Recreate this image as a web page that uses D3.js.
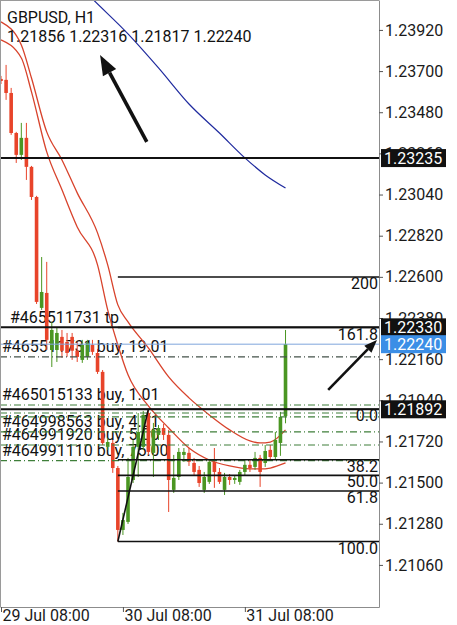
<!DOCTYPE html>
<html>
<head>
<meta charset="utf-8">
<script src="https://cdn.jsdelivr.net/npm/d3@7"></script>
<style>
  html, body { margin: 0; padding: 0; background: #fff; }
  svg { display: block; font-family: Roboto, "Noto Sans", sans-serif; }
</style>
</head>
<body>
<svg id="chart" width="457" height="625"></svg>
<script>
const SYMBOL = 'GBPUSD, H1';
const START = new Date(2020, 6, 29, 8, 0); // first hourly bar, 29 Jul 08:00
const HOUR = 3600 * 1000;

// hourly bars
const OPEN = [1.23658,1.23653,1.23583,1.23369,1.23252,1.23343,1.23188,1.23027,1.22434,1.22514,
  1.22209,1.22209,1.22279,1.22252,1.22279,1.22205,1.22156,1.22172,1.22236,1.22193,
  1.22092,1.21691,1.21712,1.21578,1.21247,1.21290,1.21514,1.21691,1.21691,1.21872,
  1.21659,1.21755,1.21792,1.21755,1.21461,1.21530,1.21648,1.21659,1.21605,1.21568,
  1.21461,1.21504,1.21611,1.21557,1.21461,1.21530,1.21514,1.21504,1.21557,1.21595,
  1.21584,1.21632,1.21605,1.21675,1.21637,1.21712,1.21856];
const HIGH = [1.23674,1.23733,1.23610,1.23375,1.23423,1.23423,1.23193,1.23033,1.22706,1.22680,
  1.22359,1.22332,1.22316,1.22300,1.22300,1.22252,1.22263,1.22263,1.22263,1.22215,
  1.22102,1.21739,1.21728,1.21589,1.21338,1.21632,1.21728,1.21872,1.21883,1.21892,
  1.21819,1.21808,1.21814,1.21782,1.21648,1.21685,1.21685,1.21685,1.21632,1.21589,
  1.21557,1.21621,1.21685,1.21578,1.21552,1.21546,1.21536,1.21568,1.21621,1.21621,
  1.21664,1.21648,1.21701,1.21701,1.21771,1.21878,1.22316];
const LOW = [1.23631,1.23546,1.23359,1.23209,1.23225,1.23118,1.23011,1.22455,1.22423,1.22209,
  1.22118,1.22145,1.22167,1.22172,1.22156,1.22145,1.22140,1.22156,1.22183,1.22081,
  1.21701,1.21675,1.21552,1.21185,1.21220,1.21279,1.21498,1.21530,1.21675,1.21648,
  1.21530,1.21728,1.21728,1.21343,1.21445,1.21514,1.21611,1.21589,1.21541,1.21477,
  1.21445,1.21493,1.21472,1.21493,1.21434,1.21488,1.21493,1.21488,1.21536,1.21557,
  1.21568,1.21477,1.21584,1.21621,1.21621,1.21643,1.21817];
const CLOSE = [1.23647,1.23583,1.23369,1.23252,1.23343,1.23188,1.23027,1.22466,1.22519,1.22263,
  1.22316,1.22300,1.22205,1.22193,1.22205,1.22172,1.22236,1.22247,1.22199,1.22092,
  1.21712,1.21717,1.21578,1.21247,1.21300,1.21530,1.21691,1.21771,1.21862,1.21664,
  1.21782,1.21792,1.21755,1.21514,1.21525,1.21664,1.21664,1.21611,1.21557,1.21498,
  1.21530,1.21611,1.21557,1.21504,1.21530,1.21514,1.21525,1.21557,1.21595,1.21578,
  1.21632,1.21557,1.21669,1.21637,1.21728,1.21851,1.22240];

// moving averages, read at these bar indices
const MA_IDX = [0, 4, 6, 9, 12, 15, 19, 21, 23, 25, 29, 33, 37, 41, 45, 49, 51, 53, 56];
const MA_UPPER = [1.23963,1.23840,1.23663,1.23375,1.23225,1.23049,1.22835,1.22664,1.22450,1.22359,
  1.22220,1.22065,1.21953,1.21862,1.21782,1.21723,1.21712,1.21717,1.21782];
const MA_LOWER = [1.23867,1.23770,1.23589,1.23268,1.23065,1.22867,1.22664,1.22423,1.22236,1.22076,
  1.21910,1.21792,1.21685,1.21621,1.21589,1.21573,1.21573,1.21578,1.21605];
const MA_BLUE_IDX = [12, 18, 25, 31, 37, 43, 48, 52, 56];
const MA_BLUE = [1.24252,1.24086,1.23899,1.23717,1.23524,1.23369,1.23236,1.23145,1.23075];

const Y_TICKS = [1.23920,1.23700,1.23480,1.23260,1.23040,1.22820,1.22600,1.22380,1.22160,1.21940,1.21720,1.21500,1.21280,1.21060];
const X_TICK_BARS = [0, 24, 48];

// horizontal lines and trade levels
const H_LINES = [1.23235, 1.22330, 1.21892];
const BID = 1.22240;
const TP_TICKET = '#465511731';
const TP_PRICE = 1.22330;
const ORDER_TICKETS = ['#465511731', '#465015133', '#464998563', '#464991920', '#464991110'];
const ORDER_LOTS = ['19.01', '1.01', '4.01', '5.00', '75.00'];
const ORDER_PRICES = [1.22172, 1.21915, 1.21771, 1.21701, 1.21618];
const OTHER_ORDER_PRICES = [1.21872, 1.21851];

// fibonacci
const FIB_LOW_BAR = 23, FIB_HIGH_BAR = 29;
const FIB_LOW = 1.21185, FIB_HIGH = 1.21892;
const FIB_LABELS = ['0.0', '38.2', '50.0', '61.8', '100.0', '161.8', '200'];
const FIB_RATIOS = [0, 0.382, 0.5, 0.618, 1, -0.618, -1];

// drawn arrows (bar index, price)
const ARROW_FROM_BAR = [28.7, 64.4];
const ARROW_FROM_PRICE = [1.23321, 1.21996];
const ARROW_TO_BAR = [19.5, 74.0];
const ARROW_TO_PRICE = [1.23786, 1.22263];

// ---- layout / style
const W = 457, H = 625;
const PLOT_R = 379, PLOT_B = 607;
const UP = '#4a9622', DOWN = '#e8442a';
const FONT = 16;

const svg = d3.select('#chart');
const fmt = d3.format('.5f');
const barTime = i => new Date(+START + i * HOUR);

const x = d3.scaleTime()
  .domain([barTime(-0.197), barTime(74.4)])
  .range([0, PLOT_R]);
const y = d3.scaleLinear()
  .domain([1.20835, 1.24080])
  .range([PLOT_B, 0]);
const xb = i => x(barTime(i));

svg.append('rect').attr('width', W).attr('height', H).attr('fill', '#fff');

svg.append('defs').append('clipPath').attr('id', 'plot')
  .append('rect').attr('width', PLOT_R).attr('height', PLOT_B);

const plot = svg.append('g').attr('clip-path', 'url(#plot)');

// header
svg.append('text').attr('x', 7).attr('y', 23).attr('font-size', FONT).attr('fill', '#111').text(SYMBOL);
const last = OPEN.length - 1;
svg.append('text').attr('x', 7).attr('y', 42).attr('font-size', FONT).attr('fill', '#111')
  .text([OPEN[last], HIGH[last], LOW[last], CLOSE[last]].map(fmt).join(' '));

// trade labels (under the candles)
plot.append('text').attr('x', 10).attr('y', y(TP_PRICE) - 4)
  .attr('font-size', FONT).attr('fill', '#111').text(`${TP_TICKET} tp`);
plot.selectAll('.olabel').data(ORDER_PRICES).enter().append('text')
  .attr('class', 'olabel')
  .attr('x', 2).attr('y', d => y(d) - 5)
  .attr('font-size', FONT).attr('fill', '#111')
  .text((d, i) => `${ORDER_TICKETS[i]} buy, ${ORDER_LOTS[i]}`);

// moving averages
const maLine = (idx, vals) => d3.line()
  .x((d, k) => xb(idx[k]))
  .y(d => y(d))
  .curve(d3.curveMonotoneX)(vals);
plot.append('path').attr('d', maLine(MA_IDX, MA_UPPER)).attr('fill', 'none').attr('stroke', '#d8432c').attr('stroke-width', 1.3);
plot.append('path').attr('d', maLine(MA_IDX, MA_LOWER)).attr('fill', 'none').attr('stroke', '#d8432c').attr('stroke-width', 1.3);
plot.append('path').attr('d', maLine(MA_BLUE_IDX, MA_BLUE)).attr('fill', 'none').attr('stroke', '#1f2a9e').attr('stroke-width', 1.2);

// candles
const bars = plot.selectAll('.bar').data(OPEN).enter().append('g').attr('class', 'bar')
  .attr('fill', (d, i) => CLOSE[i] >= OPEN[i] ? UP : DOWN)
  .attr('stroke', (d, i) => CLOSE[i] >= OPEN[i] ? UP : DOWN);
bars.append('line')
  .attr('x1', (d, i) => xb(i)).attr('x2', (d, i) => xb(i))
  .attr('y1', (d, i) => y(HIGH[i])).attr('y2', (d, i) => y(LOW[i]))
  .attr('stroke-width', 1);
bars.append('rect')
  .attr('stroke', 'none')
  .attr('x', (d, i) => xb(i) - 1.8).attr('width', 3.6)
  .attr('y', (d, i) => y(Math.max(OPEN[i], CLOSE[i])))
  .attr('height', (d, i) => Math.max(1, Math.abs(y(OPEN[i]) - y(CLOSE[i]))));

// order lines
plot.selectAll('.oline').data(ORDER_PRICES.concat(OTHER_ORDER_PRICES)).enter().append('line')
  .attr('x1', 0).attr('x2', PLOT_R)
  .attr('y1', d => y(d)).attr('y2', d => y(d))
  .attr('stroke', (d, i) => i === 0 ? '#44524a' : '#3f7f3a')
  .attr('stroke-width', 1.2)
  .attr('stroke-dasharray', '7,3,1,3');

// bid line
plot.append('line').attr('x1', 0).attr('x2', PLOT_R).attr('y1', y(BID)).attr('y2', y(BID))
  .attr('stroke', '#7ea5dc').attr('stroke-width', 1);

// fibonacci
const fibPrice = r => FIB_HIGH - r * (FIB_HIGH - FIB_LOW);
const fib = plot.append('g');
fib.selectAll('line').data(FIB_RATIOS).enter().append('line')
  .attr('x1', xb(FIB_LOW_BAR)).attr('x2', PLOT_R)
  .attr('y1', d => y(fibPrice(d))).attr('y2', d => y(fibPrice(d)))
  .attr('stroke', '#111').attr('stroke-width', 1.6);
fib.selectAll('text').data(FIB_RATIOS).enter().append('text')
  .attr('x', PLOT_R - 1).attr('y', d => y(fibPrice(d)) + 12)
  .attr('text-anchor', 'end').attr('font-size', FONT).attr('fill', '#111')
  .text((d, i) => FIB_LABELS[i]);
fib.append('line')
  .attr('x1', xb(FIB_LOW_BAR)).attr('y1', y(FIB_LOW))
  .attr('x2', xb(FIB_HIGH_BAR)).attr('y2', y(FIB_HIGH))
  .attr('stroke', '#111').attr('stroke-width', 1.6);

// horizontal lines
plot.selectAll('.hline').data(H_LINES).enter().append('line')
  .attr('x1', 0).attr('x2', PLOT_R)
  .attr('y1', d => y(d)).attr('y2', d => y(d))
  .attr('stroke', '#111').attr('stroke-width', 2);

// arrows
const ARROW_W = [3.6, 2.6], HEAD_L = [20, 13], HEAD_W = [15, 10];
ARROW_FROM_BAR.forEach((b, k) => {
  const x0 = xb(b), y0 = y(ARROW_FROM_PRICE[k]);
  const x1 = xb(ARROW_TO_BAR[k]), y1 = y(ARROW_TO_PRICE[k]);
  const a = Math.atan2(y1 - y0, x1 - x0);
  const bx = x1 - HEAD_L[k] * Math.cos(a), by = y1 - HEAD_L[k] * Math.sin(a);
  const nx = -Math.sin(a) * HEAD_W[k] / 2, ny = Math.cos(a) * HEAD_W[k] / 2;
  svg.append('line').attr('x1', x0).attr('y1', y0).attr('x2', bx).attr('y2', by)
    .attr('stroke', '#111').attr('stroke-width', ARROW_W[k]);
  svg.append('path')
    .attr('d', `M${x1},${y1}L${bx + nx},${by + ny}L${bx - nx},${by - ny}Z`)
    .attr('fill', '#111');
});

// frame
svg.append('line').attr('x1', 0).attr('x2', PLOT_R).attr('y1', 0.5).attr('y2', 0.5).attr('stroke', '#9a9a9a');
svg.append('line').attr('x1', 0.5).attr('x2', 0.5).attr('y1', 0).attr('y2', PLOT_B).attr('stroke', '#9a9a9a');

// right axis
const yAxis = svg.append('g').attr('transform', `translate(${PLOT_R},0)`)
  .call(d3.axisRight(y).tickValues(Y_TICKS).tickFormat(fmt).tickSize(4).tickPadding(2).tickSizeOuter(0));
yAxis.attr('font-size', FONT).attr('font-family', 'Roboto, sans-serif');
yAxis.select('.domain').attr('stroke', '#8c8c8c');
yAxis.selectAll('.tick line').attr('stroke', '#555');
yAxis.selectAll('.tick text').attr('fill', '#1a1a1a');

// bottom axis
const xAxis = svg.append('g').attr('transform', `translate(0,${PLOT_B})`)
  .call(d3.axisBottom(x).tickValues(X_TICK_BARS.map(barTime))
    .tickFormat(d3.timeFormat('%d %b %H:%M')).tickSize(5).tickSizeOuter(0));
xAxis.attr('font-size', FONT).attr('font-family', 'Roboto, sans-serif');
xAxis.select('.domain').attr('stroke', '#8c8c8c');
xAxis.selectAll('.tick line').attr('stroke', '#555');
xAxis.selectAll('.tick text').attr('fill', '#1a1a1a').attr('text-anchor', 'start')
  .attr('x', 1).attr('y', 3);

// price boxes on the axis
const BOX_PRICES = H_LINES.concat([BID]);
const boxes = svg.selectAll('.box').data(BOX_PRICES).enter().append('g').attr('class', 'box');
boxes.append('rect')
  .attr('x', PLOT_R + 2).attr('width', 65)
  .attr('y', d => y(d) - 9).attr('height', 18)
  .attr('fill', d => d === BID ? '#3b8ee6' : '#111');
boxes.append('text')
  .attr('x', PLOT_R + 5).attr('y', d => y(d)).attr('dy', '0.36em')
  .attr('font-size', FONT).attr('fill', '#fff')
  .text(d => fmt(d));
</script>
</body>
</html>
